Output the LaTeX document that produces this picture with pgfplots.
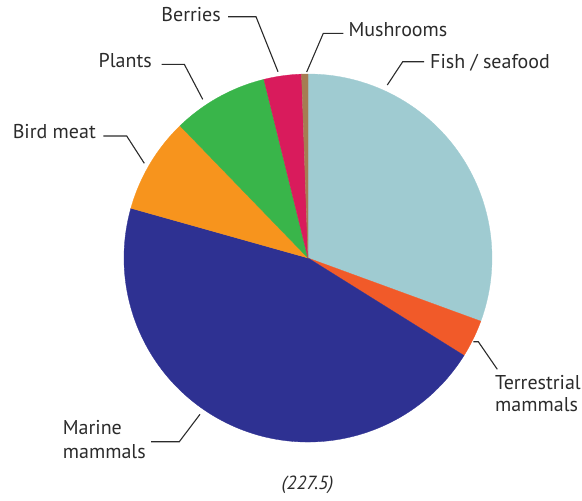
\documentclass[border=0pt]{standalone}
\usepackage{pgfplots}
\pgfplotsset{compat=1.18}
\usepackage{pgfplotstable}
\usepackage{fontspec}
\setmainfont{PT Sans}

\definecolor{cFish}{HTML}{9FCBD1}
\definecolor{cTerr}{HTML}{F15A29}
\definecolor{cMarine}{HTML}{2E3192}
\definecolor{cBird}{HTML}{F7941D}
\definecolor{cPlants}{HTML}{39B54A}
\definecolor{cBerries}{HTML}{D91B5C}
\definecolor{cMush}{HTML}{A67C52}
\definecolor{txt}{HTML}{2B2B2B}

\pgfplotstableread{
share col
30.58 cFish
3.31 cTerr
45.47 cMarine
8.40 cBird
8.39 cPlants
3.29 cBerries
0.56 cMush
}\piedata

\tikzset{lbl/.style={font=\fontsize{20}{24}\selectfont, text=txt, inner sep=0pt},
  lead/.style={draw=txt, line width=1.1pt}}

\begin{document}
\begin{tikzpicture}
\begin{axis}[x=1pt, y=1pt, xmin=0, xmax=582, ymin=0, ymax=501, y dir=reverse,
  hide axis, scale only axis, clip=false]
\pgfplotsextra{
  \path (axis cs:0,0) rectangle (axis cs:582,501);
  \gdef\cum{0}
  \pgfplotstablegetrowsof{\piedata}
  \pgfmathtruncatemacro\nrows{\pgfplotsretval-1}
  \foreach \i in {0,...,\nrows}{
    \pgfplotstablegetelem{\i}{share}\of\piedata \let\val\pgfplotsretval
    \pgfplotstablegetelem{\i}{col}\of\piedata \let\col\pgfplotsretval
    \pgfmathsetmacro\aS{90-3.6*\cum}
    \pgfmathsetmacro\aE{90-3.6*(\cum+\val)}
    \filldraw[fill=\col, draw=\col, line width=0.3pt] (axis cs:308,258) -- ++(\aS:184pt)
      arc[start angle=\aS, end angle=\aE, radius=184pt] -- cycle;
    \pgfmathsetmacro\newcum{\cum+\val}
    \xdef\cum{\newcum}
  }
  % leader lines
  \draw[lead] (axis cs:228,16.7) -- (axis cs:256,16.7) -- (axis cs:278,71.7);
  \draw[lead] (axis cs:161.7,64.3) -- (axis cs:184.3,64.3) -- (axis cs:202.7,99.3);
  \draw[lead] (axis cs:103.3,136) -- (axis cs:126.7,136) -- (axis cs:144.3,163.3);
  \draw[lead] (axis cs:343.3,33.3) -- (axis cs:323.3,33.3) -- (axis cs:306.7,72);
  \draw[lead] (axis cs:424,61.7) -- (axis cs:402.7,61.7) -- (axis cs:387.3,85);
  \draw[lead] (axis cs:473.3,341.7) -- (axis cs:478.3,341.7) -- (axis cs:497.3,369.3);
  \draw[lead] (axis cs:151,441.7) -- (axis cs:179.3,441.7) -- (axis cs:200,414.3);
  % labels
  \node[lbl, anchor=base east] at (axis cs:221,21.7) {Berries};
  \node[lbl, anchor=base east] at (axis cs:152,67.7) {Plants};
  \node[lbl, anchor=base east] at (axis cs:96,138.3) {Bird meat};
  \node[lbl, anchor=base west] at (axis cs:348.3,36) {Mushrooms};
  \node[lbl, anchor=base west] at (axis cs:430,68.3) {Fish / seafood};
  \node[lbl, anchor=base west] at (axis cs:495,389) {Terrestrial};
  \node[lbl, anchor=base west] at (axis cs:495,411.7) {mammals};
  \node[lbl, anchor=base west] at (axis cs:62.7,434.3) {Marine};
  \node[lbl, anchor=base west] at (axis cs:62.7,458.5) {mammals};
  \node[lbl, anchor=base, font=\fontsize{19}{22}\selectfont\itshape] at (axis cs:307.5,489) {(227.5)};
}
\end{axis}
\end{tikzpicture}
\end{document}
